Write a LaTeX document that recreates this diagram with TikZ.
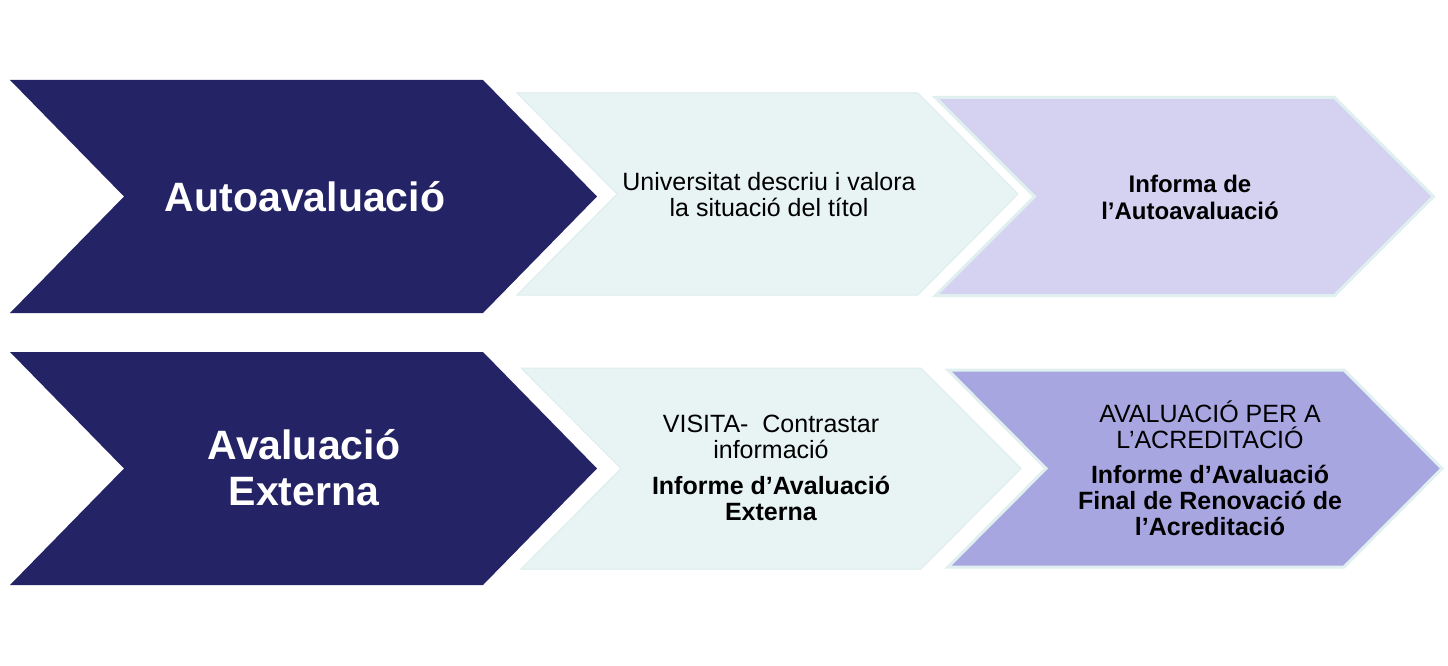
\documentclass[tikz,border=0pt]{standalone}
\usepackage{fontspec}
\setmainfont{Liberation Sans}
\usepackage{xcolor}
\usetikzlibrary{positioning}
\definecolor{navy}{HTML}{232366}
\definecolor{tealfill}{HTML}{E8F3F3}
\definecolor{tealedge}{HTML}{DDEDED}
\definecolor{lavtop}{HTML}{D4D2F0}
\definecolor{lavbot}{HTML}{A8A6E0}
\definecolor{lavedge}{HTML}{E0F0F0}

% left, top, right, bottom, depth of the point, style
\newcommand{\chevron}[6]{%
  \path[#6] (#1,#2) -- (#3,#2) -- (#3+#5,{(#2+#4)/2}) -- (#3,#4)
    -- (#1,#4) -- (#1+#5,{(#2+#4)/2}) -- cycle;}

\begin{document}
\begin{tikzpicture}[
    x = 1pt,
    y = -1pt,
    darkbox/.style={fill=navy},
    tealbox/.style={fill=tealfill, draw=tealedge, line width=1pt},
    lavbox/.style={fill=#1, draw=lavedge, line width=3pt},
    bigtext/.style={text=white, inner sep=0pt, align=center,
        font=\bfseries\fontsize{41}{46}\selectfont},
    smalltext/.style={text=black, inner sep=0pt, align=center,
        font=\fontsize{25}{26}\selectfont}
]
    \useasboundingbox (0,0) rectangle (1448,666);

    % first row
    \chevron{10}{80}{483}{313}{114}{darkbox}
    \chevron{517}{93}{918}{295}{100}{tealbox}
    \chevron{935.5}{97.5}{1334.5}{295.5}{99}{lavbox=lavtop}

    % second row
    \chevron{10}{352}{483}{585}{114}{darkbox}
    \chevron{521}{368}{921}{569}{100}{tealbox}
    \chevron{948}{370}{1344}{567}{98}{lavbox=lavbot}

    \node[bigtext] (auto) at (305,197) {Autoavaluació};
    \node[bigtext] (ext) at (304,468) {Avaluació\\Externa};

    \node[smalltext] (desc) at (769,195)
        {Universitat descriu i valora\\la situació del títol};
    \node[smalltext, font=\bfseries\fontsize{24}{27}\selectfont] (infoauto)
        at (1190,197) {Informa de\\l’Autoavaluació};

    \node[smalltext] (visita) at (771,468)
        {VISITA-~ Contrastar\\informació\\[10pt]
         \textbf{Informe d’Avaluació}\\\textbf{Externa}};
    \node[smalltext] (final) at (1210,468)
        {AVALUACIÓ PER A\\L’ACREDITACIÓ\\[9pt]
         \textbf{Informe d’Avaluació}\\\textbf{Final de Renovació de}\\
         \textbf{l’Acreditació}};
\end{tikzpicture}
\end{document}
